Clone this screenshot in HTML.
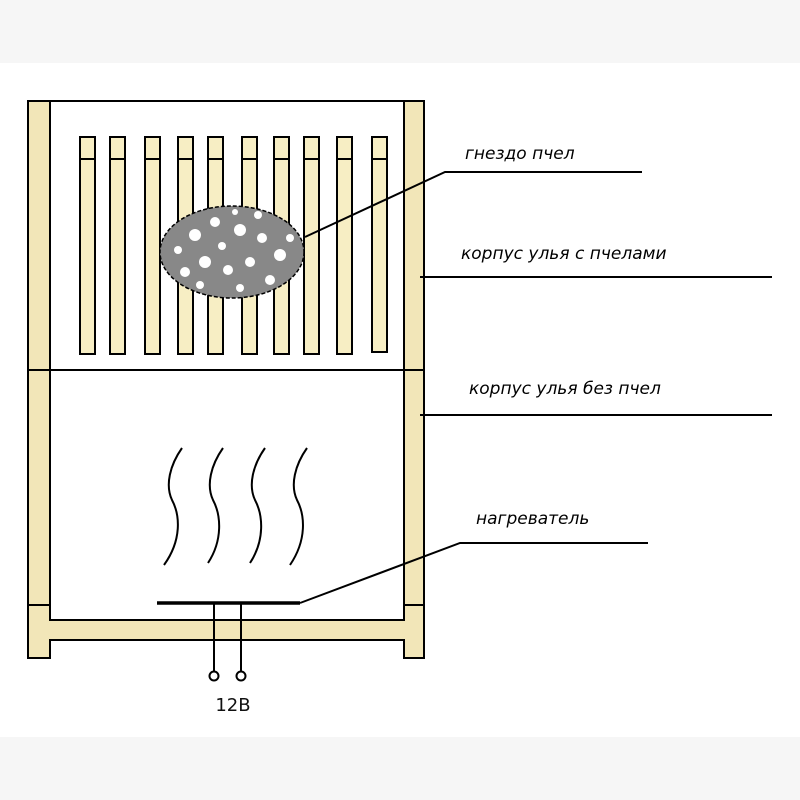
<!DOCTYPE html>
<html><head><meta charset="utf-8"><style>
html,body{margin:0;padding:0;background:#fff}
svg{display:block}
text{font-family:"DejaVu Sans","Liberation Sans",sans-serif}
</style></head><body>
<svg width="800" height="800" viewBox="0 0 800 800" xmlns="http://www.w3.org/2000/svg">
<rect x="0" y="0" width="800" height="800" fill="#fff"/>
<rect x="0" y="0" width="800" height="63" fill="#f6f6f6"/>
<rect x="0" y="737" width="800" height="63" fill="#f6f6f6"/>
<g stroke="#000" stroke-width="2" fill="#f2e6b8">
<rect x="28" y="101" width="22" height="269"/>
<rect x="404" y="101" width="20" height="269"/>
<rect x="28" y="370" width="22" height="235"/>
<rect x="404" y="370" width="20" height="235"/>
<path d="M28 605 H50 V620 H404 V605 H424 V658 H404 V640 H50 V658 H28 Z"/>
</g>
<g stroke="#000" stroke-width="2" fill="none">
<line x1="50" y1="101" x2="404" y2="101"/>
<line x1="50" y1="370" x2="404" y2="370"/>
</g>
<g stroke="#000" stroke-width="2" fill="#f7eec4">
<rect x="80" y="137" width="15" height="217"/><line x1="80" y1="159" x2="95" y2="159"/>
<rect x="110" y="137" width="15" height="217"/><line x1="110" y1="159" x2="125" y2="159"/>
<rect x="145" y="137" width="15" height="217"/><line x1="145" y1="159" x2="160" y2="159"/>
<rect x="178" y="137" width="15" height="217"/><line x1="178" y1="159" x2="193" y2="159"/>
<rect x="208" y="137" width="15" height="217"/><line x1="208" y1="159" x2="223" y2="159"/>
<rect x="242" y="137" width="15" height="217"/><line x1="242" y1="159" x2="257" y2="159"/>
<rect x="274" y="137" width="15" height="217"/><line x1="274" y1="159" x2="289" y2="159"/>
<rect x="304" y="137" width="15" height="217"/><line x1="304" y1="159" x2="319" y2="159"/>
<rect x="337" y="137" width="15" height="217"/><line x1="337" y1="159" x2="352" y2="159"/>
<rect x="372" y="137" width="15" height="215"/><line x1="372" y1="159" x2="387" y2="159"/>
</g>
<ellipse cx="232" cy="252" rx="72" ry="46" fill="#888" stroke="#000" stroke-width="1.5" stroke-dasharray="4 2"/>
<g fill="#fff">
<circle cx="195" cy="235" r="6"/><circle cx="215" cy="222" r="5"/><circle cx="240" cy="230" r="6"/>
<circle cx="262" cy="238" r="5"/><circle cx="280" cy="255" r="6"/><circle cx="205" cy="262" r="6"/>
<circle cx="228" cy="270" r="5"/><circle cx="250" cy="262" r="5"/><circle cx="185" cy="272" r="5"/>
<circle cx="270" cy="280" r="5"/><circle cx="240" cy="288" r="4"/><circle cx="178" cy="250" r="4"/>
<circle cx="258" cy="215" r="4"/><circle cx="222" cy="246" r="4"/><circle cx="290" cy="238" r="4"/>
<circle cx="200" cy="285" r="4"/><circle cx="235" cy="212" r="3"/>
</g>
<g stroke="#000" stroke-width="2" fill="none">
<polyline points="305,237 445,172 642,172"/>
<line x1="420" y1="277" x2="772" y2="277"/>
<line x1="420" y1="415" x2="772" y2="415"/>
<polyline points="300,603 460,543 648,543"/>
<line x1="157" y1="603" x2="300" y2="603" stroke-width="3.5"/>
<line x1="214" y1="603" x2="214" y2="671"/>
<line x1="241" y1="603" x2="241" y2="671"/>
<circle cx="214" cy="676" r="4.5" fill="#fff"/>
<circle cx="241" cy="676" r="4.5" fill="#fff"/>
<path d="M182 448 C170 465 165 485 172 500 C180 515 182 540 164 565"/>
<path d="M223 448 C211 465 206 485 213 500 C221 515 223 540 208 563"/>
<path d="M265 448 C253 465 248 485 255 500 C263 515 265 540 250 563"/>
<path d="M307 448 C295 465 290 485 297 500 C305 515 307 540 290 565"/>
</g>
<g font-size="17" font-style="italic" fill="#000">
<text x="465" y="159">гнездо пчел</text>
<text x="461" y="259">корпус улья с пчелами</text>
<text x="469" y="394">корпус улья без пчел</text>
<text x="476" y="524">нагреватель</text>
</g>
<text x="233" y="711" font-size="18" text-anchor="middle" fill="#111">12В</text>
</svg>
</body></html>
